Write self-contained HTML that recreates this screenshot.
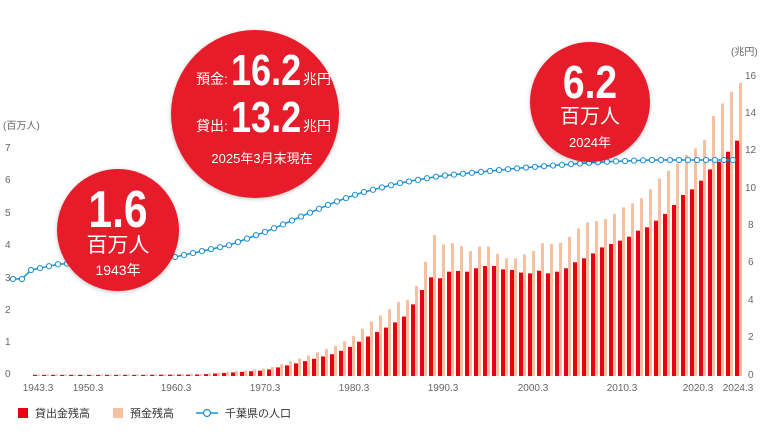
<!DOCTYPE html>
<html><head><meta charset="utf-8"><style>
html,body{margin:0;padding:0;background:#fff;}
svg{display:block;font-family:"Liberation Sans","Noto Sans CJK JP",sans-serif;}
</style></head><body>
<svg id="s" width="760" height="440" viewBox="0 0 760 440" xmlns="http://www.w3.org/2000/svg">
<g fill="#666" font-size="10">
<text x="3" y="129">(百万人)</text>
<text x="5" y="151">7</text><text x="5" y="183">6</text><text x="5" y="216">5</text><text x="5" y="248">4</text>
<text x="5" y="281">3</text><text x="5" y="313">2</text><text x="5" y="345">1</text><text x="5" y="377">0</text>
<text x="731" y="55">(兆円)</text>
<g text-anchor="start">
<text x="745" y="79">16</text><text x="745" y="116">14</text><text x="745" y="153">12</text><text x="745" y="191">10</text>
<text x="748" y="228">8</text><text x="748" y="265">6</text><text x="748" y="303">4</text><text x="748" y="340">2</text><text x="748" y="378">0</text>
</g>
<g text-anchor="middle">
<text x="38" y="391">1943.3</text><text x="88" y="391">1950.3</text><text x="176" y="391">1960.3</text>
<text x="265" y="391">1970.3</text><text x="354" y="391">1980.3</text><text x="443" y="391">1990.3</text>
<text x="533" y="391">2000.3</text><text x="622" y="391">2010.3</text><text x="698" y="391">2020.3</text><text x="738" y="391">2024.3</text>
</g>
</g>
<g id="bars"></g>
<g id="line"></g>
<defs><filter id="sh" x="-20%" y="-20%" width="140%" height="140%"><feDropShadow dx="0" dy="1" stdDeviation="2" flood-color="#000" flood-opacity="0.25"/></filter></defs>
<circle cx="118" cy="230" r="61" fill="#e61e2b" filter="url(#sh)"/>
<text x="118" y="227" fill="#fff" font-size="52" font-weight="bold" text-anchor="middle" transform="translate(118 0) scale(0.82 1) translate(-118 0)">1.6</text>
<text x="118" y="252" fill="#fff" font-size="21" text-anchor="middle">百万人</text>
<text x="118" y="275" fill="#fff" font-size="14" text-anchor="middle">1943年</text>
<circle cx="255" cy="114" r="84" fill="#e61e2b" filter="url(#sh)"/>
<text x="196" y="84" fill="#fff" font-size="14">預金:</text>
<text x="231" y="85" fill="#fff" font-size="44" font-weight="bold" transform="translate(231 0) scale(0.82 1) translate(-231 0)">16.2</text>
<text x="303" y="84" fill="#fff" font-size="14">兆円</text>
<text x="196" y="131" fill="#fff" font-size="14">貸出:</text>
<text x="231" y="132" fill="#fff" font-size="44" font-weight="bold" transform="translate(231 0) scale(0.82 1) translate(-231 0)">13.2</text>
<text x="303" y="131" fill="#fff" font-size="14">兆円</text>
<text x="262" y="163" fill="#fff" font-size="13" text-anchor="middle">2025年3月末現在</text>
<circle cx="590" cy="102" r="60" fill="#e61e2b" filter="url(#sh)"/>
<text x="590" y="98" fill="#fff" font-size="46" font-weight="bold" text-anchor="middle" transform="translate(590 0) scale(0.85 1) translate(-590 0)">6.2</text>
<text x="590" y="123" fill="#fff" font-size="20" text-anchor="middle">百万人</text>
<text x="590" y="147" fill="#fff" font-size="13" text-anchor="middle">2024年</text>
<g font-size="11" fill="#333">
<rect x="18" y="408" width="10" height="10" fill="#e60012"/><text x="35" y="417">貸出金残高</text>
<rect x="113" y="408" width="10" height="10" fill="#f7c0a0"/><text x="130" y="417">預金残高</text>
<line x1="196" y1="413" x2="218" y2="413" stroke="#1a8fd6" stroke-width="1.5"/><circle cx="207" cy="413" r="3.5" fill="#fff" stroke="#1a8fd6" stroke-width="1.2"/>
<text x="225" y="417">千葉県の人口</text>
</g>
</svg>
<script>
var NS="http://www.w3.org/2000/svg";
function el(p,t,a){var e=document.createElementNS(NS,t);for(var k in a)e.setAttribute(k,a[k]);p.appendChild(e);return e;}
var B=376,U=18.8;
var red=[3.16,3.81,4.57,5.25,5.2,5.55,5.59,5.55,5.73,5.85,5.85,5.67,5.64,5.5,5.46,5.6,
5.46,5.55,5.73,6.05,6.26,6.52,6.84,7.02,7.2,7.41,7.73,7.91,8.26,8.62,9.1,9.63,9.93,10.39,10.99,11.4,11.93,12.52];
var ora=[4.04,4.79,6.08,7.5,7.0,7.06,6.91,6.65,6.88,6.88,6.49,6.26,6.26,6.47,6.65,7.06,
7.02,7.09,7.41,7.85,8.17,8.24,8.35,8.62,8.97,9.18,9.45,9.93,10.5,10.92,11.31,11.76,12.11,12.55,13.83,14.5,15.12,15.6];
var bg=document.getElementById("bars");
var ek=[[20,0.02],[200,0.08],[265,0.3],[300,0.72],[320,1.0],[335,1.2],[350,1.55],[368,2.1],[387,2.6],[395,2.85]];
function interp(k,x){if(x<=k[0][0])return k[0][1];for(var i=0;i<k.length-1;i++){if(x<=k[i+1][0]){var a=k[i],b=k[i+1];return a[1]+(b[1]-a[1])*(x-a[0])/(b[0]-a[0]);}}return k[k.length-1][1];}
function bar(x,r,o){r=Math.max(r,0.06);o=Math.max(o,0.08);
 el(bg,"rect",{x:x+2,y:B-o*U,width:3,height:o*U,fill:"#f7c0a0"});
 el(bg,"rect",{x:x-2,y:B-r*U,width:4,height:r*U,fill:"#e60012"});}
for(var x=395;x>=28;x-=9){var r=interp(ek,x);bar(x,r,r*1.38);}
for(var i=0;i<red.length;i++)bar(404+9*i,red[i],ora[i]);
var kp=[[13,279],[22,279],[32,269],[41,268],[59,264],[100,262],[175,257],[230,245],[270,230],[300,217],[330,204],[360,193],[400,183],[440,176],[480,172],[520,168],[560,165],[600,162],[650,160],[700,160],[740,160]];
function yAt(x){return interp(kp,x);}
var lg=document.getElementById("line"),pts=[];
for(var x=13;x<=740;x+=9){pts.push(x+","+yAt(x).toFixed(1));}
el(lg,"polyline",{points:pts.join(" "),fill:"none",stroke:"#1a8fd6","stroke-width":1.5});
for(var x=13;x<=740;x+=9){el(lg,"circle",{cx:x,cy:yAt(x),r:2.6,fill:"#fff",stroke:"#1a8fd6","stroke-width":1});}
</script>
</body></html>
